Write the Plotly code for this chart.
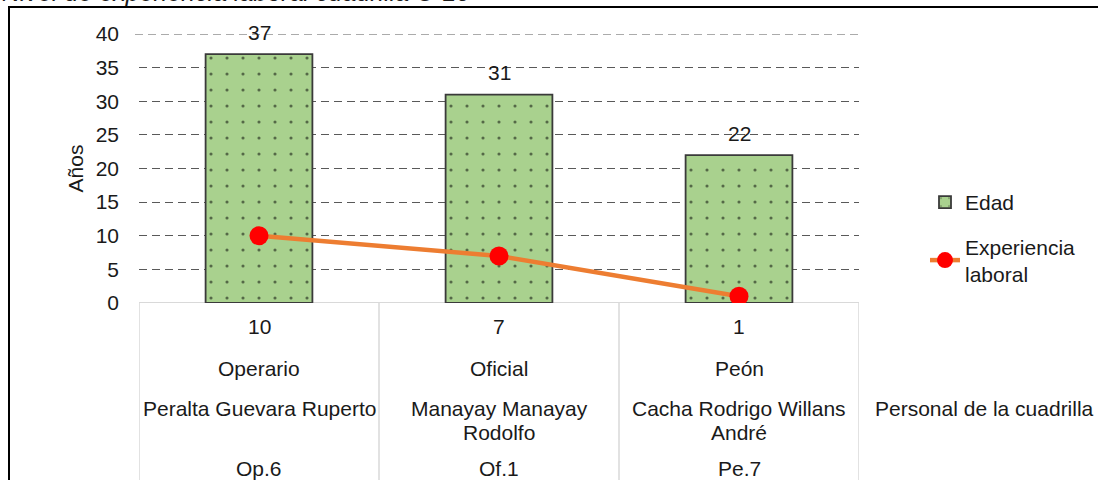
import plotly.graph_objects as go

# ---- data ----
categories = ["Op.6", "Of.1", "Pe.7"]
cargos = ["Operario", "Oficial", "Peón"]
nombres = ["Peralta Guevara Ruperto", "Manayay Manayay<br>Rodolfo", "Cacha Rodrigo Willans<br>André"]
edad = [37, 31, 22]
experiencia = [10, 7, 1]
y_ticks = [0, 5, 10, 15, 20, 25, 30, 35, 40]

FONT = "Liberation Sans, Arial, sans-serif"
TXT = "#1a1a1a"
FS = 21

W, H = 1098, 480
L, R, T, B = 139, 239, 34, 177
PH = H - T - B  # plot height px


def py(pix):
    """pixel row -> paper y"""
    return (H - B - pix) / PH


def px(pix):
    return (pix - L) / (W - L - R)


xs = list(range(len(categories)))

fig = go.Figure()
fig.add_trace(go.Bar(
    x=xs, y=edad, name="Edad", legendgroup="a",
    marker=dict(color="#a9d18e",
                line=dict(color="#3a3a3a", width=1.8),
                pattern=dict(shape=".", fgcolor="#000000", bgcolor="#a9d18e",
                             size=16, solidity=0.03)),
    width=0.445,
))
fig.add_trace(go.Scatter(
    x=xs, y=experiencia, name="Experiencia<br>laboral", mode="lines+markers",
    legendgroup="b",
    line=dict(color="#ed7d31", width=4.5),
    marker=dict(color="#ff0000", size=19),
))

annotations = []
# data labels above bars
for i, v in enumerate(edad):
    annotations.append(dict(x=xs[i], y=v, xref="x", yref="y", text=str(v), showarrow=False,
                            yshift=22, font=dict(size=FS, color=TXT, family=FONT)))
# data table rows
for i in range(len(categories)):
    annotations.append(dict(x=xs[i], y=0, xref="x", yref="paper", text=str(experiencia[i]),
                            showarrow=False, yanchor="middle", yshift=-23,
                            font=dict(size=FS, color=TXT, family=FONT)))
    annotations.append(dict(x=xs[i], y=0, xref="x", yref="paper", text=cargos[i],
                            showarrow=False, yanchor="middle", yshift=-65,
                            font=dict(size=FS, color=TXT, family=FONT)))
    for k, line in enumerate(nombres[i].split("<br>")):
        annotations.append(dict(x=xs[i], y=0, xref="x", yref="paper", text=line,
                                showarrow=False, yanchor="middle", yshift=-105 - 24 * k,
                                font=dict(size=FS, color=TXT, family=FONT)))
    annotations.append(dict(x=xs[i], y=0, xref="x", yref="paper", text=categories[i],
                            showarrow=False, yanchor="middle", yshift=-165,
                            font=dict(size=FS, color=TXT, family=FONT)))
annotations.append(dict(x=px(984), y=0, xref="paper", yref="paper", text="Personal de la cuadrilla",
                        showarrow=False, yanchor="middle", yshift=-105, xanchor="center",
                        font=dict(size=FS, color=TXT, family=FONT)))
# title (clipped at the top edge, as in the reference)
annotations.append(dict(x=px(0), y=py(-8), xref="paper", yref="paper",
                        text="<i>Nivel de experiencia laboral cuadrilla C-10</i>",
                        showarrow=False, xanchor="left", yanchor="middle",
                        font=dict(size=25, color=TXT, family=FONT)))

shapes = []
# top gridline (plotly drops the gridline at the range end)
shapes.append(dict(type="line", xref="paper", yref="y", x0=px(135), x1=1, y0=max(y_ticks), y1=max(y_ticks),
                   line=dict(color="#595959", width=1, dash="8px,5px"), layer="below"))
# table grid lines
for b in [-0.5, 0.5, 1.5, 2.5]:
    shapes.append(dict(type="line", xref="x", yref="paper", x0=b, x1=b, y0=0, y1=py(500),
                       line=dict(color="#d9d9d9", width=1.5), layer="above"))
shapes.append(dict(type="line", xref="x", yref="y", x0=-0.5, x1=2.5, y0=0, y1=0,
                   line=dict(color="#d9d9d9", width=2), layer="between"))
# outer frame
shapes.append(dict(type="rect", xref="paper", yref="paper", x0=px(9), x1=px(1120),
                   y0=py(500), y1=py(7), line=dict(color="#000000", width=2),
                   fillcolor="rgba(0,0,0,0)", layer="above"))

fig.update_layout(
    width=W, height=H,
    margin=dict(l=L, r=R, t=T, b=B),
    paper_bgcolor="white", plot_bgcolor="white",
    font=dict(family=FONT, size=FS, color=TXT),
    showlegend=True,
    legend=dict(x=px(925), y=py(182), xanchor="left", yanchor="top",
                font=dict(size=FS, color=TXT, family=FONT),
                tracegroupgap=14, bgcolor="rgba(0,0,0,0)"),
    annotations=annotations,
    shapes=shapes,
)

fig.update_xaxes(range=[-0.5, 2.5], showticklabels=False, showgrid=False, zeroline=False,
                 showline=False, ticks="")
fig.update_yaxes(range=[0, 40], tickvals=y_ticks, showgrid=True, gridcolor="#595959",
                 griddash="8px,5px", gridwidth=1, zeroline=False, showline=False,
                 ticks="", ticklabelstandoff=19,
                 tickfont=dict(size=FS, color=TXT, family=FONT),
                 title=dict(text="Años", font=dict(size=FS, color=TXT, family=FONT), standoff=6))

fig.write_html("out.html", config={"displayModeBar": False},
               post_script="document.body.style.margin='0px';")
